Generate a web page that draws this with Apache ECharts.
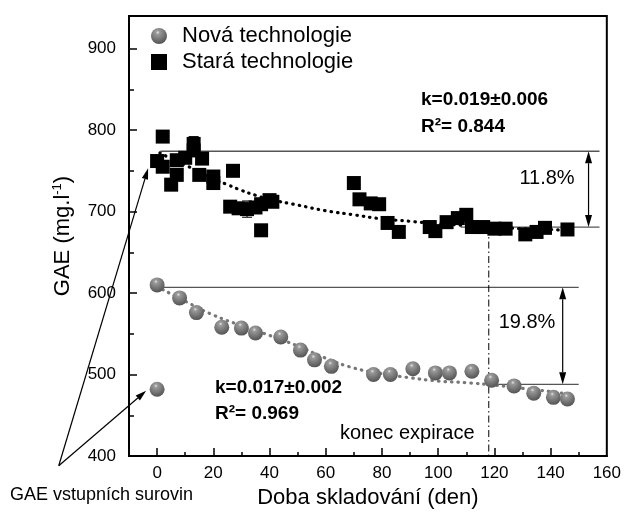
<!DOCTYPE html>
<html><head><meta charset="utf-8">
<script src="https://cdn.jsdelivr.net/npm/echarts@6/dist/echarts.min.js"></script>
<style>html,body{margin:0;padding:0;background:#fff}#c{width:624px;height:515px}</style>
</head><body><div id="c"></div>
<script>
// ---- data ----
const novaX = [0, 8, 14, 23, 30, 35, 44, 51, 56, 62, 77, 83, 91, 99, 104, 112, 119, 127, 134, 141, 146];
const novaY = [610, 594, 576, 558, 557, 551, 546, 530, 518, 510, 500, 500, 507, 502, 502, 504, 493, 486, 477, 472, 470];
const novaInputX = [0];
const novaInputY = [482];
const staraX = [0, 2, 2, 5, 7, 7, 10, 13, 13, 16, 15, 20, 20, 27, 26, 29, 32, 35, 37, 37, 40, 41, 70, 72, 76, 79, 82, 86, 97, 99, 103, 107, 110, 112, 116, 120, 124, 131, 135, 138, 146];
const staraY = [762, 792, 755, 733, 745, 763, 766, 783, 775, 765, 745, 743, 735, 750, 706, 704, 703, 705, 709, 677, 714, 712, 735, 715, 710, 709, 686, 675, 681, 676, 687, 692, 696, 681, 681, 679, 679, 672, 675, 680, 678];
const novaFitX = [0, 10, 20, 30, 40, 50, 60, 70, 80, 90, 100, 110, 120, 130, 140, 146];
const novaFitY = [608, 590, 573, 560, 548, 535, 520, 508, 501, 496, 492, 490, 487, 483, 479, 476];
const staraFitX = [1, 5, 10, 15, 20, 25, 30, 35, 40, 50, 60, 70, 80, 90, 100, 110, 120, 130, 140, 146];
const staraFitY = [772, 765, 757, 749, 740, 733, 726, 720, 715, 708, 701, 696, 691, 688, 685, 683, 681, 679, 678, 677];
const errX = [13, 32];
const errY = [783, 703];
const errD = [9, 10];
const xLabels = [0, 20, 40, 60, 80, 100, 120, 140, 160];
const xMajorTicks = [0, 20, 40, 60, 80, 100, 120, 140];
const xMinorTicks = [10, 30, 50, 70, 90, 110, 130, 150];
const yLabels = [400, 500, 600, 700, 800, 900];
const yMinorTicks = [450, 550, 650, 750, 850];
// annotation geometry (data coords)
const refLines = [[1.2, 774, 157.4, 774], [108, 681, 157.4, 681], [0, 607, 150, 607], [118, 488, 150, 488]];
const expiryLine = [118, 681, 118, 400];
const doubleArrows = [[153.5, 774, 153.5, 681], [144.3, 607, 144.3, 488]];
const pointerFrom = [-35, 388];
const pointerTo = [[-3.2, 753], [-3.9, 480]];

const FONT = '"Liberation Sans", Arial, Helvetica, sans-serif';
const zip = (a, b) => a.map((v, i) => [v, b[i]]);
const sphere = new echarts.graphic.RadialGradient(0.42, 0.28, 0.75, [
  {offset: 0, color: '#e6e6e6'}, {offset: 0.16, color: '#9a9a9a'},
  {offset: 0.5, color: '#7c7c7c'}, {offset: 1, color: '#505050'}]);

const chart = echarts.init(document.getElementById('c'), null, {renderer: 'canvas'});
const tickStyle = {color: '#000', width: 1.5};
const option = {
  animation: false,
  grid: {left: 129, right: 16, top: 16, bottom: 59, show: true, borderColor: '#000', borderWidth: 2},
  legend: {
    data: ['Nová technologie', 'Stará technologie'], orient: 'vertical', left: 151, top: 25, padding: 0,
    itemWidth: 16, itemHeight: 16, itemGap: 4,
    textStyle: {fontSize: 22, fontFamily: FONT, color: '#000', padding: [0, 0, 0, 10]}
  },
  xAxis: [{
    type: 'value', min: -10, max: 160, interval: 10,
    axisLine: {show: true, onZero: false, lineStyle: {color: '#000', width: 2}},
    axisTick: {inside: true, length: 8, customValues: xMajorTicks, lineStyle: tickStyle},
    axisLabel: {customValues: xLabels, margin: 9, fontSize: 17, color: '#000', fontFamily: FONT},
    splitLine: {show: false},
    name: 'Doba skladování (den)', nameLocation: 'middle', nameGap: 24,
    nameTextStyle: {fontSize: 22, fontFamily: FONT, color: '#000'}
  }, {
    type: 'value', min: -10, max: 160, interval: 10, position: 'bottom',
    axisLine: {show: false, onZero: false},
    axisTick: {inside: true, length: 4, customValues: xMinorTicks, lineStyle: tickStyle},
    axisLabel: {show: false}, splitLine: {show: false}
  }],
  yAxis: [{
    type: 'value', min: 400, max: 940, interval: 100,
    axisLine: {show: true, onZero: false, lineStyle: {color: '#000', width: 2}},
    axisTick: {inside: true, length: 8, customValues: yLabels, lineStyle: tickStyle},
    axisLabel: {customValues: yLabels, margin: 13, fontSize: 17, color: '#000', fontFamily: FONT},
    splitLine: {show: false},
    name: 'GAE (mg.l{sup|-1})', nameLocation: 'middle', nameGap: 55,
    nameTextStyle: {fontSize: 22, fontFamily: FONT, color: '#000',
      rich: {sup: {fontSize: 13, fontFamily: FONT, color: '#000', verticalAlign: 'bottom', padding: [0, 0, 10, 0]}}}
  }, {
    type: 'value', min: 400, max: 940, interval: 100, position: 'left',
    axisLine: {show: false, onZero: false},
    axisTick: {inside: true, length: 5, customValues: yMinorTicks, lineStyle: tickStyle},
    axisLabel: {show: false}, splitLine: {show: false}
  }],
  series: [
    {name: 'fitNova', type: 'line', data: zip(novaFitX, novaFitY), smooth: true, symbol: 'none', z: 1,
      lineStyle: {color: '#777', width: 3.2, type: [0.5, 6], cap: 'round'}},
    {name: 'fitStara', type: 'line', data: zip(staraFitX, staraFitY), smooth: true, symbol: 'none', z: 1,
      lineStyle: {color: '#000', width: 3.2, type: [0.5, 6], cap: 'round'}},
    {name: 'err', type: 'custom', z: 2, data: errX.map((x, i) => [x, errY[i], errD[i]]),
      renderItem: function (params, api) {
        const x = api.value(0), y = api.value(1), d = api.value(2);
        const t = api.coord([x, y + d]), b = api.coord([x, y - d]);
        const hw = 5, st = {stroke: '#000', lineWidth: 1};
        return {type: 'group', children: [
          {type: 'line', shape: {x1: t[0], y1: t[1], x2: b[0], y2: b[1]}, style: st},
          {type: 'line', shape: {x1: t[0] - hw, y1: t[1], x2: t[0] + hw, y2: t[1]}, style: st},
          {type: 'line', shape: {x1: b[0] - hw, y1: b[1], x2: b[0] + hw, y2: b[1]}, style: st}]};
      }},
    {name: 'Nová technologie', type: 'scatter', z: 3, symbol: 'circle', symbolSize: 15,
      itemStyle: {color: sphere, opacity: 1}, data: zip(novaX, novaY)},
    {name: 'Nová technologie', type: 'scatter', z: 3, symbol: 'circle', symbolSize: 15,
      itemStyle: {color: sphere, opacity: 1}, data: zip(novaInputX, novaInputY)},
    {name: 'Stará technologie', type: 'scatter', z: 3, symbol: 'rect', symbolSize: 14,
      itemStyle: {color: '#000', opacity: 1}, data: zip(staraX, staraY)}
  ]
};
chart.setOption(option);

// annotations, positioned from data coordinates
const px = p => chart.convertToPixel({gridIndex: 0}, p);
function arrowHead(tip, from, len, w) {
  const dx = tip[0] - from[0], dy = tip[1] - from[1], L = Math.hypot(dx, dy);
  const ux = dx / L, uy = dy / L, bx = tip[0] - ux * len, by = tip[1] - uy * len;
  return {base: [bx, by], el: {type: 'polygon', shape: {points: [[tip[0], tip[1]], [bx - uy * w, by + ux * w], [bx + uy * w, by - ux * w]]}, style: {fill: '#000'}}};
}
const g = [];
refLines.forEach(l => {
  const a = px([l[0], l[1]]), b = px([l[2], l[3]]);
  g.push({type: 'line', shape: {x1: a[0], y1: a[1], x2: b[0], y2: b[1]}, style: {stroke: '#555', lineWidth: 1.3}});
});
{
  const a = px([expiryLine[0], expiryLine[1]]), b = px([expiryLine[2], expiryLine[3]]);
  g.push({type: 'line', shape: {x1: a[0], y1: a[1], x2: b[0], y2: b[1]}, style: {stroke: '#000', lineWidth: 1, lineDash: [7, 3, 1.5, 3]}});
}
doubleArrows.forEach(l => {
  const a = px([l[0], l[1]]), b = px([l[2], l[3]]);
  const h1 = arrowHead(a, b, 12, 3.5), h2 = arrowHead(b, a, 12, 3.5);
  g.push({type: 'line', shape: {x1: h1.base[0], y1: h1.base[1], x2: h2.base[0], y2: h2.base[1]}, style: {stroke: '#000', lineWidth: 1.2}});
  g.push(h1.el, h2.el);
});
pointerTo.forEach(t => {
  const a = px(pointerFrom), b = px(t);
  const h = arrowHead(b, a, 11, 3.2);
  g.push({type: 'line', shape: {x1: a[0], y1: a[1], x2: h.base[0], y2: h.base[1]}, style: {stroke: '#000', lineWidth: 1.2}});
  g.push(h.el);
});
const txt = (s, x, y, font, align) => ({type: 'text', x: x, y: y, style: {text: s, font: font, fill: '#000', align: align || 'left', verticalAlign: 'middle'}});
const bold = 'bold 19px ' + FONT, reg20 = '20px ' + FONT;
g.push(txt('k=0.019±0.006', 421, 100, bold));
g.push(txt('R²= 0.844', 421, 127, bold));
g.push(txt('11.8%', 547, 178, reg20, 'center'));
g.push(txt('19.8%', 527, 322, reg20, 'center'));
g.push(txt('k=0.017±0.002', 215, 388, bold));
g.push(txt('R²= 0.969', 215, 414, bold));
g.push(txt('konec expirace', 340, 433, reg20));
g.push(txt('GAE vstupních surovin', 10, 495, '18px ' + FONT));
chart.setOption({graphic: {elements: g}});
</script></body></html>
